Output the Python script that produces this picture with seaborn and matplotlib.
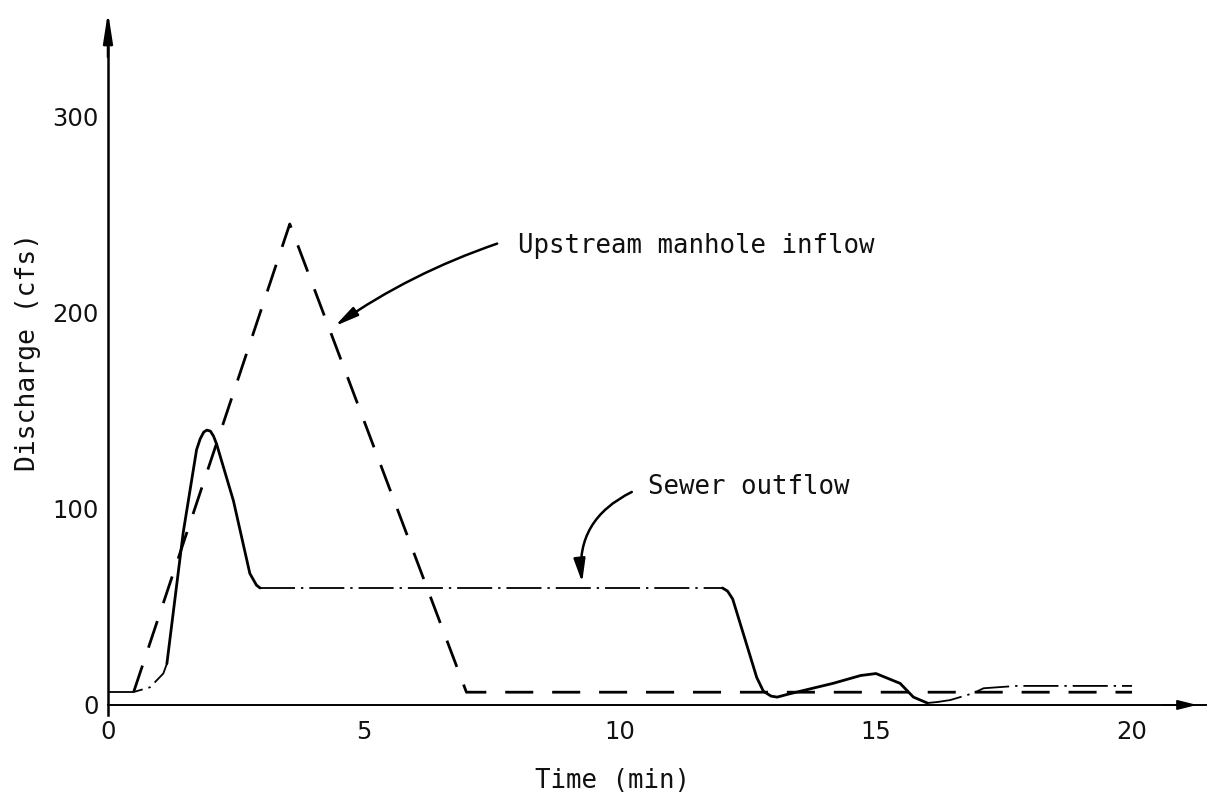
import matplotlib
matplotlib.use("Agg")
import matplotlib.pyplot as plt
import numpy as np
import pandas as pd
import seaborn as sns

# Hydrograph readings: time in minutes, discharge in cfs
inflow_time = [0.5, 3.55, 7.0, 20.0]
inflow_cfs = [6.5, 245.0, 6.5, 6.5]

sewer_time = [0.0, 0.5, 0.82, 1.08, 1.15, 1.47, 1.73, 1.8, 1.87, 1.93, 2.0,
              2.06, 2.12, 2.45, 2.77, 2.9, 2.97, 12.0, 12.1, 12.2, 12.4,
              12.67, 12.8, 12.95, 13.07, 13.3, 14.16, 14.7, 15.0, 15.14,
              15.47, 15.73, 16.0, 16.2, 16.45, 16.9, 17.1, 17.75, 20.0]
sewer_cfs = [6.6, 6.6, 9.0, 16.0, 21.0, 88.0, 130.0, 135.5, 139.0, 140.0, 139.5,
             137.0, 133.0, 104.0, 67.0, 61.0, 59.6, 59.6, 58.0, 54.0, 37.0,
             14.0, 7.0, 4.5, 4.0, 5.6, 11.0, 15.0, 16.0, 14.5,
             11.0, 4.0, 1.0, 1.5, 2.5, 6.0, 8.5, 9.7, 9.7]

x_ticks = [0, 5, 10, 15, 20]
y_ticks = [0, 100, 200, 300]
y_minor_ticks = [50, 150, 250]

# Stretches of the outflow curve drawn as a continuous stroke
solid_spans = [(1.15, 2.97), (12.0, 16.0)]

sns.set_style("white")
plt.rcParams["font.family"] = ["DejaVu Sans"]
MONO = "DejaVu Sans Mono"

# Split the outflow record into pieces, each tagged with its stroke type
bounds = sorted({sewer_time[0], sewer_time[-1]} |
                {v for span in solid_spans for v in span})
t_arr = np.array(sewer_time)
q_arr = np.array(sewer_cfs)
rows = []
for i in range(len(bounds) - 1):
    a, b = bounds[i], bounds[i + 1]
    kind = "solid" if any(a >= s0 and b <= s1 for s0, s1 in solid_spans) else "dashdot"
    m = (t_arr >= a) & (t_arr <= b)
    for t, q in zip(t_arr[m], q_arr[m]):
        rows.append({"t": t, "q": q, "piece": i, "stroke": kind})
sewer_df = pd.DataFrame(rows)
inflow_df = pd.DataFrame({"t": inflow_time, "q": inflow_cfs})

fig = plt.figure(figsize=(12.17, 8.01), dpi=100)
ax = fig.add_axes([0.0677, 0.1003, 0.9256, 0.8921])

sns.lineplot(data=inflow_df, x="t", y="q", ax=ax, color="black", lw=2.0,
             linestyle=(0, (10.1, 6.8)), sort=False)
sns.lineplot(data=sewer_df, x="t", y="q", units="piece", style="stroke",
             size="stroke", sizes={"solid": 2.0, "dashdot": 1.3},
             dashes={"solid": "", "dashdot": (19.4, 3.3, 1.3, 3.3)},
             estimator=None, sort=False, color="black", legend=False, ax=ax)

ax.set_xlim(-0.5, 21.5)
ax.set_ylim(-8, 356)

# Axes drawn as arrows crossing at the origin
for side in ["top", "right"]:
    ax.spines[side].set_visible(False)
ax.spines["left"].set_position(("data", 0))
ax.spines["bottom"].set_position(("data", 0))
ax.spines["left"].set_bounds(-5, 335)
ax.spines["bottom"].set_bounds(0, 21.45)
ax.spines["left"].set_linewidth(1.8)
ax.spines["bottom"].set_linewidth(1.4)
ax.spines["left"].set_color("black")
ax.spines["bottom"].set_color("black")
ax.annotate("", xy=(0, 353), xytext=(0, 330),
            arrowprops=dict(arrowstyle="-|>,head_length=1.8,head_width=0.28",
                            color="black", lw=1.8, shrinkA=0, shrinkB=0,
                            mutation_scale=10))
ax.annotate("", xy=(21.27, 0), xytext=(20.6, 0),
            arrowprops=dict(arrowstyle="-|>,head_length=1.2,head_width=0.3",
                            color="black", lw=1.2, shrinkA=0, shrinkB=0,
                            mutation_scale=10))

ax.set_xticks(x_ticks)
ax.set_xticklabels([str(v) for v in x_ticks])
ax.set_yticks(y_ticks)
ax.set_yticklabels([str(v) for v in y_ticks])
ax.set_yticks(y_minor_ticks, minor=True)
ax.tick_params(axis="both", which="both", direction="inout", length=7,
               width=1.4, color="black", labelsize=17.5, labelcolor="#111111")
ax.tick_params(axis="x", pad=7)
ax.tick_params(axis="y", pad=3)
ax.grid(False)

ax.set_xlabel("Time (min)", fontsize=18.5, family=MONO, color="#111111")
ax.set_ylabel("Discharge (cfs)", fontsize=19, family=MONO, color="#111111")
ax.xaxis.set_label_coords(0.471, -0.066)
ax.yaxis.set_label_coords(-0.037, 0.516)

# Curve labels with pointer arrows
ax.text(8.0, 234, "Upstream manhole inflow", fontsize=18.5, family=MONO,
        ha="left", va="center", color="#111111")
ax.annotate("", xy=(4.43, 193), xytext=(7.6, 235),
            arrowprops=dict(arrowstyle="-|>,head_length=1.4,head_width=0.3",
                            connectionstyle="arc3,rad=0.07", color="black",
                            lw=1.8, shrinkA=0, shrinkB=0, mutation_scale=10))
ax.text(10.55, 111, "Sewer outflow", fontsize=18.5, family=MONO,
        ha="left", va="center", color="#111111")
ax.annotate("", xy=(9.26, 62.5), xytext=(10.23, 108.5),
            arrowprops=dict(arrowstyle="-|>,head_length=1.4,head_width=0.35",
                            connectionstyle="arc3,rad=0.35", color="black",
                            lw=1.8, shrinkA=0, shrinkB=0, mutation_scale=10))

fig.savefig("out.png", dpi=100)
